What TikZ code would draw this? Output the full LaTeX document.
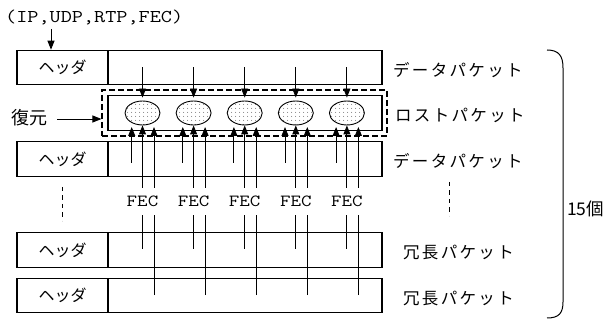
\documentclass[tikz,border=0pt]{standalone}
\usepackage{fontspec}
\newfontfamily\jp{Noto Sans CJK JP}
\newfontfamily\jpsp[LetterSpace=14]{Noto Sans CJK JP}
\newfontfamily\cour[FakeStretch=1.2]{Latin Modern Mono}
\usetikzlibrary{arrows.meta,shapes.geometric,patterns.meta}
\begin{document}
\begin{tikzpicture}[x=1pt,y=-1pt,
  box/.style={draw,line width=1.1pt,rectangle,inner sep=0pt,minimum height=34.5pt},
  hdr/.style={box,minimum width=91pt,font=\jp\fontsize{16}{16}\selectfont},
  dat/.style={box,minimum width=274pt},
  lbl/.style={anchor=west,inner sep=0pt,font=\jpsp\fontsize{16.5}{16.5}\selectfont},
  lost/.style={ellipse,draw,line width=0.9pt,minimum width=35pt,minimum height=24pt,inner sep=0pt,
    pattern={Dots[distance=4pt,radius=0.45pt]}},
  fec/.style={inner sep=0pt,minimum height=27pt,font=\cour\fontsize{17}{17}\selectfont},
  ln/.style={line width=0.9pt},
  arr/.style={ln,-{Triangle[length=9pt,width=7pt]}},
  dsh/.style={line width=0.9pt,dash pattern=on 4.5pt off 4pt}
]
\useasboundingbox (0,0) rectangle (610,320);
% top label
\node[inner sep=0pt,anchor=west,font=\cour\fontsize{18}{18}\selectfont] (ip) at (5,18) {(IP,UDP,RTP,FEC)};
% rows
\node[hdr] (h1) at (62.5,67.5) {ヘッダ};
\node[dat] (d1) at (245,67.5) {};
\node[box,dash pattern=on 6pt off 3pt,line width=1.1pt,minimum width=285pt,minimum height=46pt] (dl) at (244.5,113) {};
\node[dat] (d2) at (245,113) {};
\node[hdr] (h3) at (62.5,159) {ヘッダ};
\node[dat] (d3) at (245,159) {};
\node[hdr] (h4) at (62.5,250) {ヘッダ};
\node[dat] (d4) at (245,250) {};
\node[hdr] (h5) at (62.5,295.5) {ヘッダ};
\node[dat] (d5) at (245,295.5) {};
% arrow from header label
\coordinate (a0) at (51,29);
\draw[arr] (a0) -- (h1.north -| a0);
% restore label
\node[inner sep=0pt,anchor=west,font=\jp\fontsize{18}{18}\selectfont] (fk) at (11,118) {復元};
\coordinate (fka) at (57,119);
\draw[arr] (fka) -- (dl.west |- fka);
% right labels
\node[lbl] (l1) at (393,70) {データパケット};
\node[lbl] (l2) at (395,115) {ロストパケット};
\node[lbl] (l3) at (393,161) {データパケット};
\node[lbl] (l4) at (403,253) {冗長パケット};
\node[lbl] (l5) at (403,299) {冗長パケット};
% dashed continuation marks
\coordinate (vl1) at (62,187); \coordinate (vl2) at (62,221);
\draw[dsh] (vl1) -- (vl2);
\coordinate (vr1) at (449,182); \coordinate (vr2) at (449,216);
\draw[dsh] (vr1) -- (vr2);
% ellipses, FEC and arrows
\foreach \i/\cx in {1/142.5,2/193.6,3/244.7,4/295.8,5/346.9}{
  \node[lost] (e\i) at (\cx,113) {};
  \node[fec] (f\i) at (\cx,201.5) {FEC};
  \coordinate (td\i) at (\cx,67.5);
  \draw[arr] (td\i) -- ([yshift=3pt]e\i.north);
  % left up arrow (from data packet)
  \coordinate (ul\i) at (\cx-10.8,163);
  \coordinate (ult\i) at (\cx-10.8,127);
  \draw[arr] (ul\i) -- (ult\i);
  % middle up arrow (from redundant packet 1)
  \coordinate (um\i) at (\cx,249);
  \draw[ln] (um\i) -- (f\i.south -| um\i);
  \draw[arr] (f\i.north -| um\i) -- (e\i.south);
  % right up arrow (from redundant packet 2)
  \coordinate (ur\i) at (\cx+11.5,295);
  \coordinate (urt\i) at (\cx+11.5,127);
  \draw[ln] (ur\i) -- (f\i.south -| ur\i);
  \draw[arr] (f\i.north -| ur\i) -- (urt\i);
}
% brace
\draw[line width=1pt] (547,50) .. controls (559,50) and (563,56) .. (563,68) -- (563,302) .. controls (563,313) and (559,318) .. (547,318);
\node[inner sep=0pt,anchor=west,font=\jp\fontsize{17.5}{17.5}\selectfont] (cnt) at (567,209) {15個};
\end{tikzpicture}
\end{document}
